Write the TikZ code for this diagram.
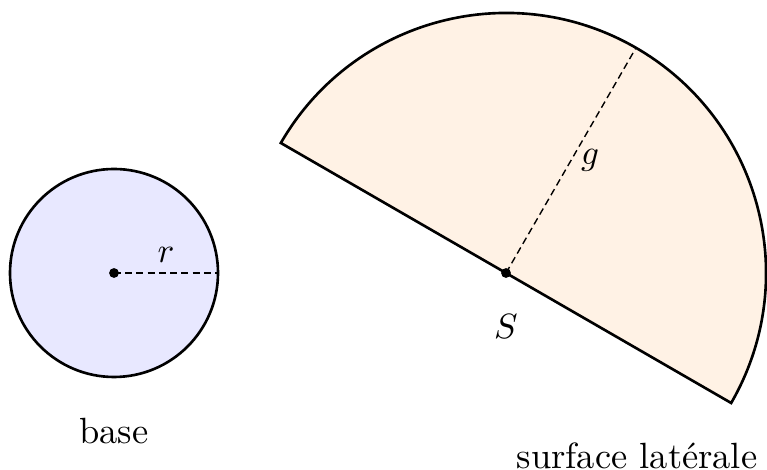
\documentclass[tikz,border=0pt]{standalone}
\begin{document}
\begin{tikzpicture}[x=0.285pt,y=0.285pt,
  font=\fontsize{10.4}{12.5}\selectfont,
  edge/.style={line width=0.75pt, line join=miter},
  dashline/.style={line width=0.4pt, dash pattern=on 2pt off 1.2pt},
  dotmark/.style={circle, fill=black, inner sep=0pt, minimum size=2.8pt},
  lbl/.style={inner sep=0pt}]
\useasboundingbox (0,0) rectangle (767,470);
% base
\coordinate (O) at (114,197);
\fill[blue!9] (O) circle[radius=104];
\draw[edge] (O) circle[radius=104];
\coordinate (R) at (218,197);
\draw[dashline] (O) -- (R);
\node[dotmark] (Odot) at (O) {};
\node[lbl] (r) at (166,215) {$r$};
\node[lbl] (base) at (114,39) {base};
% lateral surface
\coordinate (S) at (506,197);
\path (S) ++(150:260) coordinate (A);
\path (S) ++(-30:260) coordinate (B);
\path (S) ++(60:260) coordinate (G);
\fill[orange!10] (A) arc[start angle=150, end angle=-30, radius=260] -- cycle;
\draw[dashline] (S) -- (G);
\draw[edge] (A) arc[start angle=150, end angle=-30, radius=260] -- cycle;
\node[dotmark] (Sdot) at (S) {};
\node[lbl] (Slbl) at (506,143) {$S$};
\node[lbl] (g) at (590,310) {$g$};
\node[lbl] (surf) at (637,14) {surface latérale};
\end{tikzpicture}
\end{document}
